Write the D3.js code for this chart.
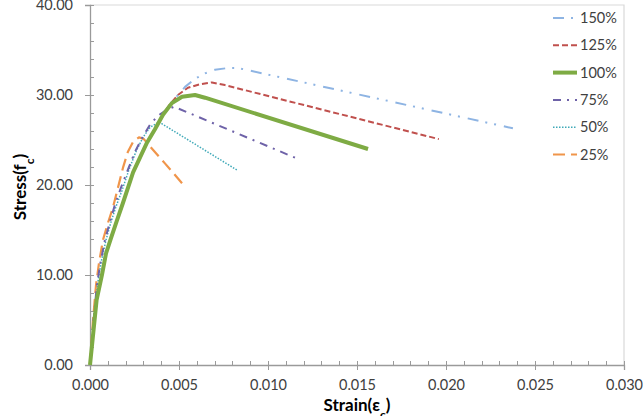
<!DOCTYPE html>
<html><head><meta charset="utf-8">
<script src="https://cdn.jsdelivr.net/npm/d3@7"></script>
<style>
html,body{margin:0;padding:0;background:#fff;}
svg{display:block;}
</style></head>
<body>
<svg id="chart" width="643" height="416"></svg>
<script>
// ---- data ----
const seriesNames = ["150%", "125%", "100%", "75%", "50%", "25%"];

const strain150 = [0, 0.00017, 0.00037, 0.00067, 0.0009, 0.00118, 0.00152, 0.00185, 0.00242, 0.0032, 0.00365, 0.0041, 0.0045, 0.00494, 0.00534, 0.0059, 0.00646, 0.00702, 0.00775, 0.00831, 0.02376];
const stress150 = [0, 3.3, 7.2, 10.0, 12.4, 14.1, 16.1, 18.0, 21.4, 24.7, 26.2, 27.8, 29.0, 30.0, 30.9, 31.8, 32.4, 32.8, 33.0, 33.0, 26.3];

const strain125 = [0, 0.00017, 0.00037, 0.00067, 0.0009, 0.00118, 0.00152, 0.00185, 0.00242, 0.0032, 0.00365, 0.0041, 0.0045, 0.00494, 0.0055, 0.00618, 0.00685, 0.00758, 0.0196];
const stress125 = [0, 3.3, 7.2, 10.0, 12.4, 14.1, 16.1, 18.0, 21.4, 24.7, 26.2, 27.8, 29.0, 30.0, 30.8, 31.2, 31.4, 31.1, 25.1];

const strain100 = [0, 0.00017, 0.00037, 0.00067, 0.0009, 0.00118, 0.00152, 0.00185, 0.00242, 0.0032, 0.00365, 0.0041, 0.0046, 0.00517, 0.0059, 0.00646, 0.01562];
const stress100 = [0, 3.3, 7.2, 10.0, 12.4, 14.1, 16.1, 18.0, 21.4, 24.7, 26.2, 27.8, 29.1, 29.8, 30.0, 29.7, 24.0];

const strain75 = [0, 0.0002, 0.00039, 0.00059, 0.00084, 0.00112, 0.0014, 0.00174, 0.00213, 0.00253, 0.00292, 0.00337, 0.00382, 0.00427, 0.00472, 0.0118];
const stress75 = [0, 5.0, 8.9, 11.4, 13.9, 15.9, 17.8, 19.7, 21.7, 23.7, 25.2, 26.7, 27.7, 28.3, 28.7, 22.8];

const strain50 = [0, 0.00022, 0.00042, 0.00062, 0.0009, 0.00118, 0.00146, 0.0018, 0.00219, 0.00258, 0.00298, 0.00337, 0.00388, 0.00831];
const stress50 = [0, 5.0, 8.9, 11.4, 13.9, 15.9, 17.6, 19.4, 21.7, 23.7, 25.3, 26.4, 27.0, 21.6];

const strain25 = [0, 0.00017, 0.00034, 0.00051, 0.00073, 0.00101, 0.00129, 0.00157, 0.00185, 0.00213, 0.00242, 0.00275, 0.00303, 0.00337, 0.00421, 0.00517];
const stress25 = [0, 5.0, 8.9, 11.4, 13.9, 15.8, 17.5, 19.7, 21.9, 23.7, 24.8, 25.3, 25.1, 24.3, 22.4, 20.2];

const xTicks = [0, 0.005, 0.010, 0.015, 0.020, 0.025, 0.030];
const yTicks = [0, 10, 20, 30, 40];

// ---- build series table ----
const strains = [strain150, strain125, strain100, strain75, strain50, strain25];
const stresses = [stress150, stress125, stress100, stress75, stress50, stress25];
const styles = [
  {color: "#8eb4e3", width: 2,   dash: "11,7,2,7,2,8"},
  {color: "#c0504d", width: 2,   dash: "6,3"},
  {color: "#7eab44", width: 4,   dash: null},
  {color: "#6e62a8", width: 2,   dash: "8,6,2,6"},
  {color: "#3fa9b8", width: 1.5, dash: "1.5,1.5"},
  {color: "#f0954a", width: 2.2, dash: "12,6"}
];
const series = seriesNames.map((name, i) => ({
  name, style: styles[i],
  points: strains[i].map((s, j) => ({x: s, y: stresses[i][j]}))
}));

// ---- layout ----
const svg = d3.select("#chart");
const mLeft = 90, mRight = 624, mTop = 5, mBottom = 365;
const x = d3.scaleLinear().domain([0, 0.030]).range([mLeft, mRight]);
const y = d3.scaleLinear().domain([0, 40]).range([mBottom, mTop]);
const font = "Lato, 'Open Sans', sans-serif";

// plot border (top/right)
svg.append("path")
  .attr("d", `M${mLeft},${mTop}H${mRight}V${mBottom}`)
  .attr("fill", "none").attr("stroke", "#d9d9d9").attr("stroke-width", 1.2);

// minor ticks
const gMinor = svg.append("g").attr("stroke", "#9a9a9a").attr("stroke-width", 1);
d3.range(0, 0.0301, 0.001).forEach(v => {
  const px = Math.round(x(v)) + 0.5;
  gMinor.append("line").attr("x1", px).attr("x2", px).attr("y1", mBottom).attr("y2", mBottom - 4);
});
d3.range(0, 40.1, 2).forEach(v => {
  const py = Math.round(y(v)) + 0.5;
  gMinor.append("line").attr("x1", mLeft).attr("x2", mLeft + 4).attr("y1", py).attr("y2", py);
});

// axes
const xAxis = d3.axisBottom(x).tickValues(xTicks).tickFormat(d3.format(".3f")).tickSize(5).tickPadding(10);
const yAxis = d3.axisLeft(y).tickValues(yTicks).tickFormat(d3.format(".2f")).tickSize(5).tickPadding(12);

const gx = svg.append("g").attr("transform", `translate(0,${mBottom})`).call(xAxis);
const gy = svg.append("g").attr("transform", `translate(${mLeft},0)`).call(yAxis);
[gx, gy].forEach(g => {
  g.select(".domain").attr("stroke", "#9a9a9a").attr("stroke-width", 1.3);
  g.selectAll(".tick line").attr("stroke", "#9a9a9a").attr("stroke-width", 1);
  g.selectAll(".tick text").attr("fill", "#404040").style("font-family", font).style("font-size", "14.5px");
});

// lines
const line = d3.line().x(d => x(d.x)).y(d => y(d.y)).curve(d3.curveLinear);
const drawOrder = [5, 4, 3, 1, 0, 2];
drawOrder.forEach(i => {
  const s = series[i];
  svg.append("path").datum(s.points)
    .attr("d", line)
    .attr("fill", "none")
    .attr("stroke", s.style.color)
    .attr("stroke-width", s.style.width)
    .attr("stroke-dasharray", s.style.dash)
    .attr("stroke-linejoin", "round");
});

// legend
const legend = svg.append("g");
series.forEach((s, i) => {
  const ly = 18 + i * 27.3;
  legend.append("line")
    .attr("x1", 553).attr("x2", 577).attr("y1", ly).attr("y2", ly)
    .attr("stroke", s.style.color).attr("stroke-width", s.style.width)
    .attr("stroke-dasharray", s.style.dash);
  legend.append("text")
    .attr("x", 580).attr("y", ly).attr("dy", "0.35em")
    .attr("fill", "#404040").style("font-family", font).style("font-size", "14.5px")
    .text(s.name);
});

// axis titles
const xt = svg.append("text")
  .attr("x", 357).attr("y", 411).attr("text-anchor", "middle")
  .style("font-family", font).style("font-size", "17px").style("font-weight", "bold").attr("fill", "#000");
xt.append("tspan").text("Strain(ε");
xt.append("tspan").attr("baseline-shift", "sub").style("font-size", "12px").text("c");
xt.append("tspan").text(")");

const yt = svg.append("text")
  .attr("transform", "translate(26,187) rotate(-90)").attr("text-anchor", "middle")
  .style("font-family", font).style("font-size", "17px").style("font-weight", "bold").attr("fill", "#000");
yt.append("tspan").text("Stress(f");
yt.append("tspan").attr("baseline-shift", "sub").style("font-size", "12px").text("c");
yt.append("tspan").text(")");
</script>
</body></html>
